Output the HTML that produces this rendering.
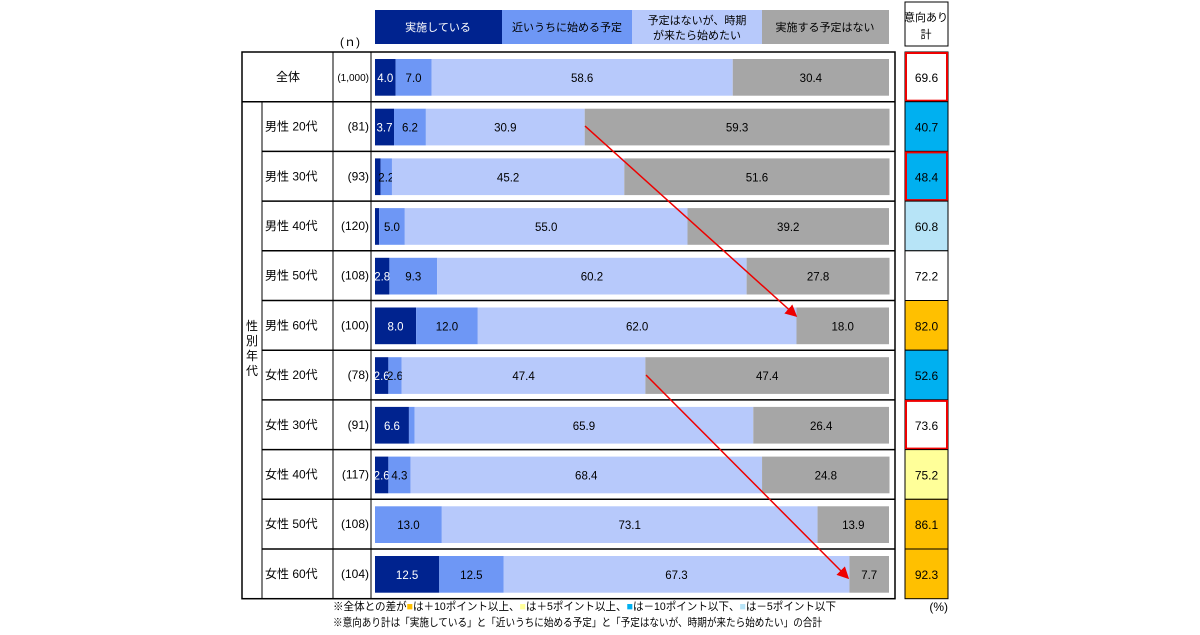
<!DOCTYPE html>
<html><head><meta charset="utf-8">
<style>
body{margin:0;background:#fff;width:1200px;height:630px;overflow:hidden;font-family:"Liberation Sans","Noto Sans CJK JP",sans-serif;}
svg text{font-family:"Liberation Sans","Noto Sans CJK JP",sans-serif;}
</style></head><body>
<svg id="chart" width="1200" height="630" viewBox="0 0 1200 630" xmlns="http://www.w3.org/2000/svg">
<g id="legend">
  <rect x="375" y="10" width="127" height="34" fill="#00238f"/>
  <text x="438" y="31" font-size="11" fill="#fff" text-anchor="middle">実施している</text>
  <rect x="502" y="10" width="130" height="34" fill="#6e97f5"/>
  <text x="567" y="31" font-size="11" fill="#000" text-anchor="middle">近いうちに始める予定</text>
  <rect x="632" y="10" width="130" height="34" fill="#b7c9fb"/>
  <text x="697" y="24" font-size="11" fill="#000" text-anchor="middle">予定はないが、時期</text>
  <text x="697" y="39" font-size="11" fill="#000" text-anchor="middle">が来たら始めたい</text>
  <rect x="762" y="10" width="127" height="34" fill="#a6a6a6"/>
  <text x="825" y="31" font-size="11" fill="#000" text-anchor="middle">実施する予定はない</text>
</g>
<text x="350" y="46" font-size="12" text-anchor="middle">(ｎ)</text>
<g id="rightHead">
  <rect x="905" y="2" width="43" height="44" fill="#fff" stroke="#000" stroke-width="1"/>
  <text x="926" y="21" font-size="11" text-anchor="middle">意向あり</text>
  <text x="926" y="38" font-size="11" text-anchor="middle">計</text>
</g>
<g id="table"></g>
<g id="bars"></g>
<g id="right"></g>
<g id="arrows">
  <defs><marker id="ah" markerWidth="8" markerHeight="8" refX="6" refY="4" orient="auto"><path d="M0,0 L8,4 L0,8 z" fill="#e00"/></marker></defs>
  <line x1="585" y1="126" x2="795" y2="315" stroke="#e00" stroke-width="1.5" marker-end="url(#ah)"/>
  <line x1="646" y1="375" x2="847" y2="577" stroke="#e00" stroke-width="1.5" marker-end="url(#ah)"/>
</g>
<text x="333" y="610" font-size="11" textLength="503" lengthAdjust="spacingAndGlyphs">※全体との差が<tspan fill="#ffc000">■</tspan>は＋10ポイント以上、<tspan fill="#ffff99">■</tspan>は＋5ポイント以上、<tspan fill="#00b0f0">■</tspan>は－10ポイント以下、<tspan fill="#b7e4f7">■</tspan>は－5ポイント以下</text>
<text x="333" y="626" font-size="11" textLength="489" lengthAdjust="spacingAndGlyphs">※意向あり計は「実施している」と「近いうちに始める予定」と「予定はないが、時期が来たら始めたい」の合計</text>
<text x="948" y="611" font-size="12" text-anchor="end">(%)</text>
</svg>
<script>
const categories=["全体","男性 20代","男性 30代","男性 40代","男性 50代","男性 60代","女性 20代","女性 30代","女性 40代","女性 50代","女性 60代"];
const nLabels=["(1,000)","(81)","(93)","(120)","(108)","(100)","(78)","(91)","(117)","(108)","(104)"];
const implemented=[4.0,3.7,1.1,0.8,2.8,8.0,2.6,6.6,2.6,0,12.5];
const soon=[7.0,6.2,2.2,5.0,9.3,12.0,2.6,1.1,4.3,13.0,12.5];
const whenTime=[58.6,30.9,45.2,55.0,60.2,62.0,47.4,65.9,68.4,73.1,67.3];
const noPlan=[30.4,59.3,51.6,39.2,27.8,18.0,47.4,26.4,24.8,13.9,7.7];
const totals=[69.6,40.7,48.4,60.8,72.2,82.0,52.6,73.6,75.2,86.1,92.3];
const totalColors=["#fff","#00b0f0","#00b0f0","#b7e4f7","#fff","#ffc000","#00b0f0","#fff","#ffff99","#ffc000","#ffc000"];
const redBorder=[true,false,true,false,false,false,false,true,false,false,false];
const hideLabel=[[false,false,false,false],[false,false,false,false],[true,false,false,false],[true,false,false,false],[false,false,false,false],[false,false,false,false],[false,false,false,false],[false,true,false,false],[false,false,false,false],[true,false,false,false],[false,false,false,false]];

const NS="http://www.w3.org/2000/svg";
const X0=375,X1=889;
const rowTop=i=>52+i*49.7;
const rowH=49.7;
const xs=v=>v*(X1-X0)/100;
function mk(tag,attrs,parent){const e=document.createElementNS(NS,tag);for(const k in attrs)e.setAttribute(k,attrs[k]);parent.appendChild(e);return e;}
const tbl=document.getElementById('table'),bars=document.getElementById('bars'),right=document.getElementById('right');
const tableBottom=rowTop(categories.length);
let fr=mk('rect',{x:242,y:52,width:653,height:tableBottom-52,fill:'none',stroke:'#000','stroke-width':1.5},tbl);


mk('line',{x1:262,y1:rowTop(1),x2:262,y2:tableBottom,stroke:'#000'},tbl);
mk('line',{x1:333,y1:52,x2:333,y2:tableBottom,stroke:'#000'},tbl);
mk('line',{x1:371,y1:52,x2:371,y2:tableBottom,stroke:'#000'},tbl);
let vt=mk('text',{x:252,y:330,'font-size':12,'text-anchor':'middle'},tbl);


["性","別","年","代"].forEach((c,k)=>{const t=mk('tspan',{x:252,y:330+k*15},vt);t.textContent=c;});
const series=[implemented,soon,whenTime,noPlan];
const cols=["#00238f","#6e97f5","#b7c9fb","#a6a6a6"];
const txtCols=["#fff","#000","#000","#000"];
const names=["implemented","soon","when-time","no-plan"];
categories.forEach((c,i)=>{
  const y=rowTop(i);
  if(i>0){mk('line',{x1:i===1?242:262,y1:y,x2:895,y2:y,stroke:'#000','stroke-width':1.5},tbl);}
  let lt=mk('text',{x:i===0?288:265,y:y+rowH/2+4,'font-size':12,'text-anchor':i===0?'middle':'start'},tbl);
  lt.textContent=c;
  
  
  let nt=mk('text',{x:369,y:y+rowH/2+4,'font-size':i===0?10:12,'text-anchor':'end'},tbl);
  nt.textContent=nLabels[i];
  
  
  let acc=0;
  series.forEach((s,k)=>{
    const v=s[i];const x=X0+xs(acc);const w=xs(v);
    if(v>0){
      let r=mk('rect',{x:x,y:y+7,width:w,height:rowH-13,fill:cols[k]},bars);
      
      
      if(!hideLabel[i][k]){
        let t=mk('text',{x:x+w/2,y:y+rowH/2+5,'font-size':11.5,'text-anchor':'middle',fill:txtCols[k]},bars);
        t.textContent=v.toFixed(1);
        
        
      }
    }
    acc+=v;
  });
  let rc=mk('rect',{x:905,y:y,width:43,height:rowH,fill:totalColors[i],stroke:'#000','stroke-width':1},right);
  
  
  if(redBorder[i]){mk('rect',{x:906,y:y+1,width:41,height:rowH-2,fill:'none',stroke:'#e00','stroke-width':2},right);}
  let tt=mk('text',{x:926.5,y:y+rowH/2+5,'font-size':12,'text-anchor':'middle'},right);
  tt.textContent=totals[i].toFixed(1);
  
  
});
</script>
</body></html>
